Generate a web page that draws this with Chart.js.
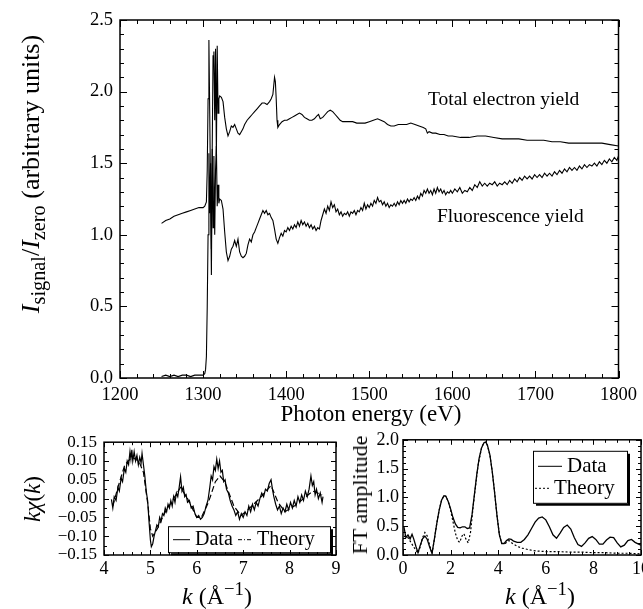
<!DOCTYPE html>
<html>
<head>
<meta charset="utf-8">
<script src="https://cdn.jsdelivr.net/npm/chart.js@4.4.1/dist/chart.umd.min.js"></script>
<style>
html, body { margin: 0; padding: 0; background: #fff; width: 643px; height: 609px; overflow: hidden; position: relative; }
canvas { position: absolute; }
.lbl { position: absolute; font-family: 'Liberation Serif', 'Times New Roman', serif; color: #000; white-space: nowrap; line-height: 1; }
.rot { transform: translate(-50%, -50%) rotate(-90deg); }
.ctr { transform: translateX(-50%); }
sub, sup { font-size: 0.78em; line-height: 0; }
</style>
</head>
<body>
<canvas id="main" width="643" height="420" style="left:0px;top:0px"></canvas>
<canvas id="chi" width="360" height="184" style="left:0px;top:425px"></canvas>
<canvas id="ft" width="330" height="184" style="left:340px;top:425px"></canvas>

<div class="lbl rot" style="left:31px;top:174px;font-size:26px"><i>I</i><sub>signal</sub>/<i>I</i><sub>zero</sub> (arbitrary units)</div>
<div class="lbl ctr" style="left:371px;top:402px;font-size:23px">Photon energy (eV)</div>
<div class="lbl" style="left:428px;top:89px;font-size:19.5px">Total electron yield</div>
<div class="lbl" style="left:437px;top:206px;font-size:19.5px">Fluorescence yield</div>
<div class="lbl rot" style="left:32px;top:499px;font-size:23px"><i>k</i><i>χ</i>(<i>k</i>)</div>
<div class="lbl ctr" style="left:217px;top:584px;font-size:24px"><i>k</i> (Å<sup>−1</sup>)</div>
<div class="lbl rot" style="left:360px;top:495px;font-size:22px">FT amplitude</div>
<div class="lbl ctr" style="left:540px;top:584px;font-size:24px"><i>k</i> (Å<sup>−1</sup>)</div>

<script>
// ---- datos ----
const mainXTicks = [1200, 1300, 1400, 1500, 1600, 1700, 1800];
const mainYTicks = [0, 0.5, 1.0, 1.5, 2.0, 2.5];
const chiXTicks = [4, 5, 6, 7, 8, 9];
const chiYTicks = [-0.15, -0.10, -0.05, 0, 0.05, 0.10, 0.15];
const ftXTicks = [0, 2, 4, 6, 8, 10];
const ftYTicks = [0, 0.5, 1.0, 1.5, 2.0];

// Total electron yield [eV, valor]
const teyPoints = [
  [1250,1.08],[1255,1.10],[1260,1.11],[1265,1.13],[1270,1.14],[1275,1.15],[1280,1.16],[1285,1.17],[1290,1.18],[1295,1.19],
  [1300,1.19],[1302,1.20],[1304,1.23],[1305,1.45],[1306,1.95],[1307,2.36],[1308,1.85],[1309,1.30],[1310,0.72],[1311,1.60],
  [1312,2.25],[1313,2.28],[1314,1.80],[1315,2.30],[1316,1.55],[1317,2.32],[1318,1.85],[1319,1.95],[1320,1.97],[1322,1.96],
  [1324,1.93],[1326,1.82],[1328,1.74],[1330,1.69],[1332,1.72],[1334,1.76],[1336,1.75],[1338,1.77],[1340,1.74],[1342,1.71],
  [1344,1.70],[1346,1.72],[1348,1.74],[1350,1.77],[1353,1.80],[1356,1.82],[1359,1.84],[1362,1.86],[1365,1.88],[1368,1.90],
  [1371,1.92],[1374,1.92],[1377,1.91],[1380,1.93],[1382,1.95],[1384,1.98],[1385,2.04],[1386,2.10],[1387,2.07],[1388,1.95],
  [1389,1.80],[1390,1.75],[1392,1.77],[1395,1.79],[1398,1.80],[1401,1.80],[1404,1.81],[1407,1.82],[1410,1.83],[1413,1.84],
  [1416,1.85],[1419,1.84],[1422,1.82],[1425,1.81],[1428,1.80],[1431,1.80],[1434,1.81],[1437,1.83],[1439,1.84],[1441,1.81],
  [1444,1.82],[1447,1.84],[1450,1.86],[1453,1.87],[1456,1.86],[1459,1.84],[1462,1.82],[1465,1.80],[1468,1.79],[1472,1.79],
  [1476,1.79],[1480,1.79],[1485,1.78],[1490,1.78],[1495,1.78],[1500,1.79],[1505,1.80],[1510,1.81],[1514,1.80],[1518,1.79],
  [1522,1.77],[1526,1.76],[1530,1.76],[1535,1.77],[1540,1.77],[1545,1.77],[1550,1.78],[1555,1.77],[1560,1.76],[1565,1.75],
  [1568,1.74],[1570,1.71],[1572,1.72],[1576,1.71],[1580,1.71],[1585,1.70],[1590,1.70],[1595,1.69],[1600,1.69],[1610,1.68],
  [1620,1.68],[1630,1.69],[1640,1.69],[1650,1.68],[1660,1.67],[1670,1.67],[1680,1.67],[1690,1.66],[1700,1.66],[1710,1.66],
  [1720,1.65],[1730,1.65],[1740,1.64],[1750,1.64],[1760,1.64],[1770,1.64],[1780,1.64],[1790,1.63],[1800,1.62]
];

// Fluorescence yield [eV, valor]
const fyPoints = [
  [1250,0.01],[1255,0.02],[1260,0.01],[1265,0.02],[1270,0.01],[1275,0.02],[1280,0.02],[1285,0.01],[1290,0.02],[1295,0.02],
  [1300,0.02],[1302,0.03],[1303,0.06],[1304,0.15],[1305,0.50],[1306,1.00],[1307,1.57],[1308,1.15],[1309,1.50],[1310,0.90],
  [1311,1.60],[1312,1.05],[1313,1.55],[1314,1.00],[1315,1.45],[1316,1.62],[1317,1.20],[1318,1.35],[1319,1.22],[1320,1.25],
  [1322,1.24],[1324,1.18],[1326,1.02],[1328,0.88],[1330,0.82],[1332,0.85],[1334,0.90],[1336,0.92],[1338,0.96],[1340,0.92],
  [1342,0.97],[1344,0.88],[1346,0.85],[1348,0.84],[1350,0.85],[1352,0.87],[1354,0.93],[1356,0.97],[1358,0.95],[1360,1.00],
  [1362,1.02],[1364,1.05],[1366,1.08],[1368,1.11],[1370,1.14],[1372,1.17],[1374,1.15],[1376,1.17],[1378,1.14],[1380,1.15],
  [1382,1.12],[1384,1.10],[1386,1.04],[1388,0.97],[1390,0.94],[1392,0.98],[1394,1.01],[1396,0.99],[1398,1.03],[1400,1.02],
  [1402,1.05],[1404,1.03],[1406,1.06],[1408,1.04],[1410,1.07],[1412,1.05],[1414,1.09],[1416,1.06],[1418,1.10],[1420,1.07],
  [1422,1.09],[1424,1.06],[1426,1.08],[1428,1.05],[1430,1.07],[1432,1.04],[1434,1.06],[1436,1.03],[1438,1.05],[1440,1.04],
  [1442,1.10],[1444,1.14],[1446,1.18],[1448,1.15],[1450,1.20],[1452,1.17],[1454,1.23],[1456,1.19],[1458,1.21],[1460,1.16],
  [1462,1.18],[1464,1.14],[1466,1.16],[1468,1.13],[1470,1.15],[1472,1.14],[1474,1.16],[1476,1.13],[1478,1.16],[1480,1.15],
  [1482,1.17],[1484,1.14],[1486,1.17],[1488,1.16],[1490,1.19],[1492,1.17],[1494,1.22],[1496,1.18],[1498,1.21],[1500,1.19],
  [1502,1.22],[1504,1.20],[1506,1.24],[1508,1.22],[1510,1.26],[1512,1.23],[1514,1.24],[1516,1.21],[1518,1.23],[1520,1.20],
  [1522,1.22],[1524,1.19],[1526,1.21],[1528,1.20],[1530,1.22],[1532,1.20],[1534,1.23],[1536,1.21],[1538,1.24],[1540,1.22],
  [1542,1.24],[1544,1.22],[1546,1.25],[1548,1.23],[1550,1.25],[1552,1.24],[1554,1.26],[1556,1.24],[1558,1.27],[1560,1.25],
  [1562,1.29],[1564,1.27],[1566,1.31],[1568,1.29],[1570,1.32],[1572,1.29],[1574,1.31],[1576,1.28],[1578,1.32],[1580,1.29],
  [1582,1.33],[1584,1.30],[1586,1.32],[1588,1.29],[1590,1.31],[1592,1.28],[1594,1.30],[1596,1.29],[1598,1.31],[1600,1.29],
  [1603,1.32],[1606,1.30],[1609,1.33],[1612,1.29],[1615,1.31],[1618,1.30],[1621,1.33],[1624,1.31],[1627,1.35],[1630,1.33],
  [1633,1.37],[1636,1.34],[1639,1.36],[1642,1.34],[1645,1.36],[1648,1.35],[1651,1.37],[1654,1.34],[1657,1.36],[1660,1.35],
  [1663,1.37],[1666,1.35],[1669,1.38],[1672,1.36],[1675,1.39],[1678,1.37],[1681,1.40],[1684,1.38],[1687,1.41],[1690,1.39],
  [1693,1.41],[1696,1.39],[1699,1.42],[1702,1.40],[1705,1.42],[1708,1.40],[1711,1.43],[1714,1.41],[1717,1.43],[1720,1.41],
  [1723,1.44],[1726,1.42],[1729,1.45],[1732,1.43],[1735,1.46],[1738,1.44],[1741,1.47],[1744,1.45],[1747,1.47],[1750,1.45],
  [1753,1.48],[1756,1.46],[1759,1.49],[1762,1.47],[1765,1.49],[1768,1.48],[1771,1.50],[1774,1.48],[1777,1.51],[1780,1.49],
  [1783,1.52],[1786,1.50],[1789,1.53],[1792,1.51],[1795,1.54],[1798,1.52],[1800,1.55]
];

// k·chi(k): datos y teoría [k, valor]
const chiData = [
  [4.16,-0.002],[4.19,-0.025],[4.22,0.005],[4.26,-0.005],[4.30,0.03],[4.33,0.02],[4.37,0.055],[4.40,0.045],[4.44,0.08],[4.47,0.07],
  [4.50,0.10],[4.53,0.09],[4.56,0.125],[4.58,0.105],[4.60,0.13],[4.62,0.10],[4.65,0.125],[4.68,0.10],[4.71,0.115],[4.74,0.09],
  [4.77,0.11],[4.80,0.095],[4.82,0.12],[4.85,0.09],[4.88,0.06],[4.91,0.02],[4.94,-0.005],[4.97,-0.06],[5.00,-0.11],[5.02,-0.128],
  [5.05,-0.12],[5.08,-0.10],[5.11,-0.085],[5.14,-0.07],[5.17,-0.075],[5.20,-0.05],[5.23,-0.06],[5.26,-0.04],[5.29,-0.045],[5.32,-0.025],
  [5.35,-0.035],[5.38,-0.015],[5.41,-0.025],[5.44,-0.005],[5.47,-0.02],[5.50,0.005],[5.53,-0.01],[5.56,0.015],[5.59,0.005],[5.62,0.03],
  [5.65,0.058],[5.68,0.02],[5.71,0.03],[5.74,0.005],[5.77,0.01],[5.80,-0.01],[5.84,-0.005],[5.88,-0.025],[5.92,-0.02],[5.96,-0.04],
  [6.00,-0.05],[6.04,-0.045],[6.08,-0.055],[6.12,-0.05],[6.16,-0.04],[6.20,-0.02],[6.24,-0.005],[6.28,0.03],[6.31,0.06],[6.34,0.05],
  [6.37,0.085],[6.40,0.075],[6.43,0.105],[6.46,0.08],[6.49,0.10],[6.52,0.07],[6.55,0.075],[6.58,0.045],[6.61,0.05],[6.64,0.025],
  [6.68,0.015],[6.72,-0.005],[6.76,-0.02],[6.80,-0.03],[6.84,-0.045],[6.88,-0.035],[6.92,-0.055],[6.96,-0.04],[7.00,-0.05],[7.04,-0.035],
  [7.08,-0.045],[7.12,-0.02],[7.16,-0.035],[7.20,-0.015],[7.24,-0.03],[7.28,-0.01],[7.32,-0.02],[7.36,0.0],[7.40,0.015],[7.44,0.005],
  [7.48,0.025],[7.52,0.02],[7.56,0.04],[7.60,0.05],[7.63,0.025],[7.66,0.005],[7.70,-0.015],[7.74,-0.03],[7.78,-0.02],[7.82,-0.04],
  [7.86,-0.025],[7.90,-0.035],[7.94,-0.015],[7.98,-0.03],[8.02,-0.01],[8.06,-0.025],[8.10,-0.005],[8.14,-0.02],[8.18,0.005],[8.22,-0.01],
  [8.26,0.01],[8.30,-0.005],[8.34,0.02],[8.38,0.005],[8.42,0.025],[8.46,0.06],[8.49,0.035],[8.52,0.045],[8.55,0.01],[8.58,0.025],
  [8.62,0.0],[8.66,0.015],[8.70,-0.01],[8.72,0.005]
];
const chiTheory = [
  [4.19,-0.02],[4.30,0.03],[4.45,0.09],[4.60,0.11],[4.75,0.10],[4.85,0.07],[4.95,-0.02],[5.00,-0.08],[5.05,-0.10],[5.15,-0.08],
  [5.30,-0.04],[5.50,0.0],[5.65,0.03],[5.80,0.0],[6.00,-0.05],[6.10,-0.05],[6.25,-0.01],[6.40,0.045],[6.50,0.06],[6.60,0.045],
  [6.80,-0.02],[6.95,-0.045],[7.10,-0.03],[7.35,0.0],[7.60,0.035],[7.75,-0.01],[7.90,-0.035],[8.10,-0.02],[8.30,0.0],[8.50,0.02],[8.70,0.01]
];

// Amplitud FT: datos y teoría [k, valor]
const ftData = [
  [0.04,0.49],[0.12,0.30],[0.21,0.35],[0.30,0.28],[0.38,0.36],[0.45,0.28],[0.55,0.14],[0.63,0.04],[0.72,0.16],[0.82,0.28],
  [0.92,0.33],[1.02,0.27],[1.12,0.14],[1.22,0.03],[1.32,0.28],[1.42,0.55],[1.52,0.78],[1.62,0.95],[1.72,1.03],[1.80,1.02],
  [1.90,0.93],[2.00,0.80],[2.10,0.65],[2.20,0.54],[2.30,0.48],[2.40,0.47],[2.50,0.49],[2.60,0.49],[2.70,0.46],[2.80,0.47],
  [2.90,0.70],[3.00,1.05],[3.10,1.40],[3.20,1.68],[3.30,1.86],[3.40,1.95],[3.48,1.96],[3.55,1.90],[3.65,1.74],[3.75,1.45],
  [3.85,1.08],[3.95,0.68],[4.05,0.35],[4.15,0.20],[4.25,0.20],[4.35,0.25],[4.45,0.28],[4.55,0.27],[4.65,0.24],[4.80,0.22],
  [4.95,0.22],[5.10,0.27],[5.25,0.35],[5.40,0.46],[5.55,0.57],[5.70,0.64],[5.85,0.66],[6.00,0.61],[6.15,0.49],[6.30,0.35],
  [6.45,0.29],[6.60,0.38],[6.75,0.48],[6.90,0.52],[7.05,0.45],[7.20,0.30],[7.35,0.18],[7.50,0.15],[7.65,0.21],[7.80,0.29],
  [7.95,0.32],[8.10,0.27],[8.25,0.19],[8.40,0.19],[8.55,0.26],[8.70,0.31],[8.85,0.30],[9.00,0.21],[9.15,0.14],[9.30,0.17],
  [9.45,0.25],[9.60,0.27],[9.75,0.22],[9.90,0.19],[10.0,0.17]
];
const ftTheory = [
  [0.04,0.32],[0.12,0.33],[0.21,0.30],[0.30,0.24],[0.45,0.14],[0.63,0.03],[0.72,0.14],[0.82,0.30],[0.92,0.39],[1.02,0.33],
  [1.12,0.17],[1.22,0.02],[1.32,0.28],[1.42,0.55],[1.52,0.78],[1.62,0.95],[1.72,1.03],[1.80,1.02],[1.90,0.93],[2.00,0.78],
  [2.10,0.58],[2.20,0.38],[2.30,0.25],[2.38,0.22],[2.48,0.33],[2.56,0.37],[2.64,0.28],[2.74,0.21],[2.84,0.40],[2.95,0.85],
  [3.05,1.20],[3.15,1.55],[3.30,1.86],[3.40,1.95],[3.48,1.96],[3.55,1.90],[3.65,1.74],[3.75,1.45],[3.85,1.08],[3.95,0.68],
  [4.05,0.35],[4.15,0.20],[4.30,0.20],[4.45,0.25],[4.60,0.20],[4.80,0.15],[5.00,0.12],[5.30,0.09],[5.60,0.07],[6.00,0.06],
  [6.50,0.06],[7.00,0.05],[7.50,0.05],[8.00,0.04],[8.50,0.04],[9.00,0.03],[9.50,0.03],[10.0,0.02]
];

// ---- estilos ----
const SERIF = "'Liberation Serif', 'Times New Roman', serif";
Chart.defaults.font.family = SERIF;
Chart.defaults.color = '#000';
Chart.defaults.animation = false;

const toXY = pts => pts.map(([x, y]) => ({ x, y }));

// marco con marcas hacia dentro en los cuatro lados
const frameTicks = {
  id: 'frameTicks',
  afterDraw(chart, args, o) {
    const { ctx, chartArea: a, scales: { x, y } } = chart;
    ctx.save();
    ctx.strokeStyle = '#000';
    ctx.lineWidth = 1.5;
    ctx.strokeRect(a.left, a.top, a.right - a.left, a.bottom - a.top);
    ctx.lineWidth = 1;
    const marks = (scale, step, len, horiz) => {
      const n = Math.round((scale.max - scale.min) / step);
      ctx.beginPath();
      for (let i = 0; i <= n; i++) {
        const p = Math.round(scale.getPixelForValue(scale.min + i * step)) + 0.5;
        if (horiz) {
          ctx.moveTo(p, a.bottom); ctx.lineTo(p, a.bottom - len);
          ctx.moveTo(p, a.top); ctx.lineTo(p, a.top + len);
        } else {
          ctx.moveTo(a.left, p); ctx.lineTo(a.left + len, p);
          ctx.moveTo(a.right, p); ctx.lineTo(a.right - len, p);
        }
      }
      ctx.stroke();
    };
    marks(x, o.xMinor, o.minorLen, true);
    marks(x, o.xMajor, o.majorLen, true);
    marks(y, o.yMinor, o.minorLen, false);
    marks(y, o.yMajor, o.majorLen, false);
    ctx.restore();
  }
};

// leyenda en caja dentro del área del gráfico
const boxLegend = {
  id: 'boxLegend',
  afterDatasetsDraw(chart, args, o) {
    if (!o.items) return;
    const { ctx, chartArea: a } = chart;
    const bx = a.left + o.x, by = a.top + o.y;
    ctx.save();
    ctx.fillStyle = '#fff';
    ctx.fillRect(bx, by, o.w, o.h);
    ctx.strokeStyle = '#000';
    ctx.lineWidth = 1;
    ctx.strokeRect(bx + 0.5, by + 0.5, o.w, o.h);
    ctx.lineWidth = 2;
    ctx.beginPath();
    ctx.moveTo(bx + 3, by + o.h + 2);
    ctx.lineTo(bx + o.w + 2, by + o.h + 2);
    ctx.lineTo(bx + o.w + 2, by + 3);
    ctx.stroke();
    ctx.font = o.font;
    ctx.textBaseline = 'middle';
    ctx.fillStyle = '#000';
    o.items.forEach(it => {
      const ds = chart.data.datasets[it.ds];
      ctx.lineWidth = 1;
      ctx.setLineDash(it.dash || ds.borderDash || []);
      ctx.beginPath();
      ctx.moveTo(a.left + it.x0, a.top + it.y + 0.5);
      ctx.lineTo(a.left + it.x1, a.top + it.y + 0.5);
      ctx.stroke();
      ctx.setLineDash([]);
      ctx.fillText(ds.label, a.left + it.tx, a.top + it.y + 1);
    });
    ctx.restore();
  }
};

function lineSet(label, pts, dash, width) {
  return {
    label, data: toXY(pts), showLine: true, pointRadius: 0,
    borderColor: '#000', borderWidth: width, borderDash: dash, tension: 0
  };
}

function axis(min, max, ticks, fmt, size, pad, fit) {
  return {
    type: 'linear', min, max,
    grid: { display: false, drawTicks: false },
    border: { display: false },
    afterBuildTicks: s => { s.ticks = ticks.map(value => ({ value })); },
    ticks: { font: { size }, padding: pad, autoSkip: false, maxRotation: 0, callback: fmt },
    afterFit: fit
  };
}

const fmt1 = v => v.toFixed(1);
const fmtInt = v => String(v);
const fmtChi = v => Math.abs(v) < 1e-9 ? '0.00' : (v < 0 ? '\u2212' : '') + Math.abs(v).toFixed(2);

function makeChart(id, datasets, x, y, padding, ticksOpt, legendOpt) {
  return new Chart(document.getElementById(id), {
    type: 'scatter',
    data: { datasets },
    options: {
      responsive: false, devicePixelRatio: 1,
      layout: { padding },
      scales: { x, y },
      plugins: {
        legend: { display: false }, tooltip: { enabled: false },
        frameTicks: ticksOpt, boxLegend: legendOpt
      }
    },
    plugins: [frameTicks, boxLegend]
  });
}

makeChart('main',
  [lineSet('Total electron yield', teyPoints, [], 1.1), lineSet('Fluorescence yield', fyPoints, [], 1.1)],
  axis(1200, 1800, mainXTicks, fmtInt, 18.5, 6, s => { s.height = 42; }),
  axis(0, 2.5, mainYTicks, fmt1, 18.5, 7, s => { s.width = 120; }),
  { left: 0, top: 20, right: 21, bottom: 0 },
  { xMajor: 100, xMinor: 20, yMajor: 0.5, yMinor: 0.1, majorLen: 7, minorLen: 4 },
  {}
);

makeChart('chi',
  [lineSet('Data', chiData, [], 1.2), lineSet('Theory', chiTheory, [6, 3], 1.2)],
  axis(4, 9, chiXTicks, fmtInt, 18, 3, s => { s.height = 54; }),
  axis(-0.15, 0.15, chiYTicks, fmtChi, 17, 7, s => { s.width = 104; }),
  { left: 0, top: 12, right: 24, bottom: 0 },
  { xMajor: 1, xMinor: 0.2, yMajor: 0.05, yMinor: 0.025, majorLen: 5, minorLen: 3 },
  { x: 64, y: 84, w: 162, h: 26, font: '20px ' + SERIF,
    items: [{ ds: 0, x0: 69, x1: 86, tx: 91, y: 97 }, { ds: 1, x0: 134, x1: 149, tx: 153, y: 97, dash: [4, 2, 1, 2] }] }
);

makeChart('ft',
  [lineSet('Data', ftData, [], 1.3), lineSet('Theory', ftTheory, [2, 2], 1.2)],
  axis(0, 10, ftXTicks, fmtInt, 18, 3, s => { s.height = 54; }),
  axis(0, 2.0, ftYTicks, fmt1, 18, 4, s => { s.width = 63; }),
  { left: 0, top: 12, right: 29, bottom: 0 },
  { xMajor: 2, xMinor: 0.5, yMajor: 0.5, yMinor: 0.1, majorLen: 5, minorLen: 3 },
  { x: 130, y: 11, w: 94, h: 52, font: '21px ' + SERIF,
    items: [{ ds: 0, x0: 135, x1: 159, tx: 164, y: 26 }, { ds: 1, x0: 132, x1: 148, tx: 151, y: 48 }] }
);
</script>
</body>
</html>
